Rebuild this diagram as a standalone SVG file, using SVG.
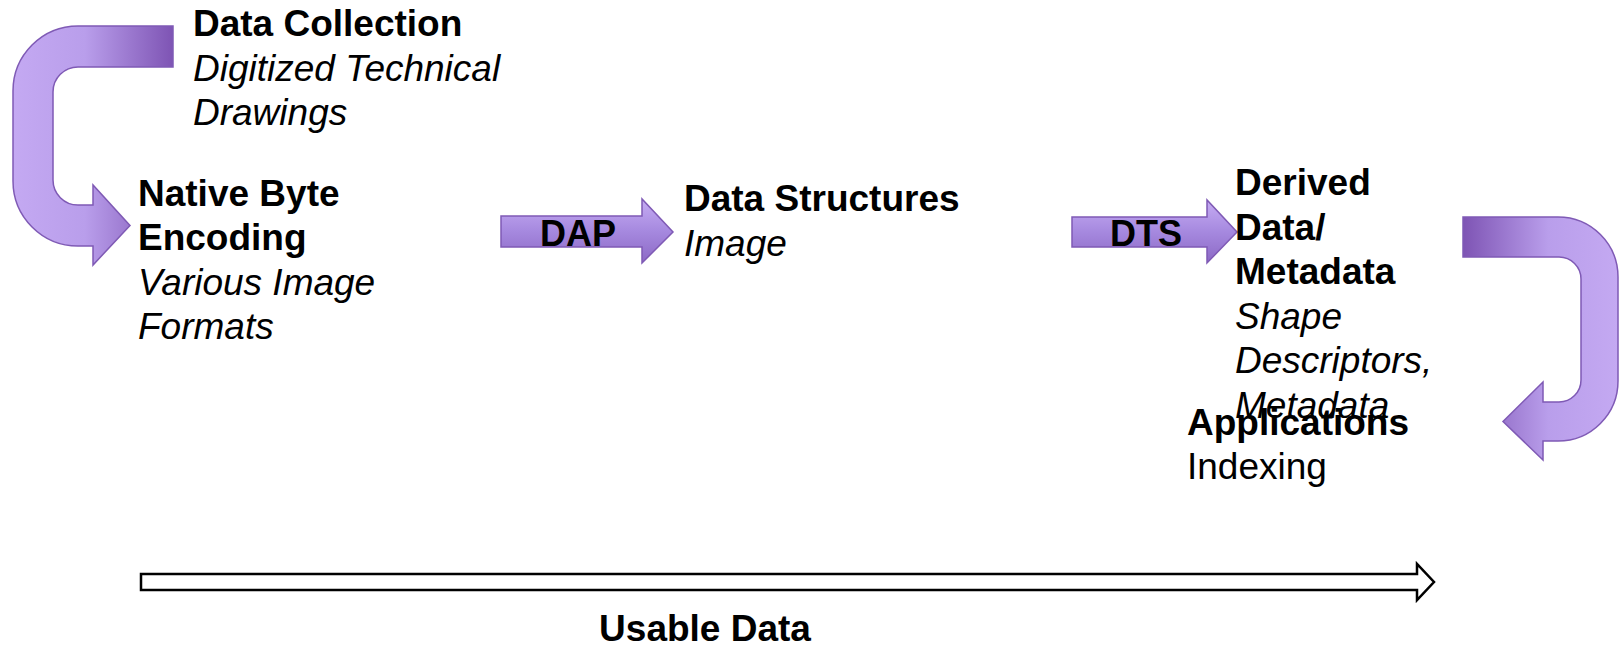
<svg xmlns="http://www.w3.org/2000/svg" width="1619" height="650" viewBox="0 0 1619 650">
<defs>
<linearGradient id="gL" x1="0" y1="0" x2="1" y2="0">
<stop offset="0" stop-color="#c4a9f2"/>
<stop offset="0.45" stop-color="#b99eeb"/>
<stop offset="1" stop-color="#7e54b4"/>
</linearGradient>
<linearGradient id="gR" x1="0" y1="0" x2="1" y2="0">
<stop offset="0" stop-color="#7e54b4"/>
<stop offset="0.55" stop-color="#b99eeb"/>
<stop offset="1" stop-color="#c4a9f2"/>
</linearGradient>
<linearGradient id="gV" x1="0" y1="0" x2="0" y2="1">
<stop offset="0" stop-color="#c6acf3"/>
<stop offset="0.5" stop-color="#a689df"/>
<stop offset="1" stop-color="#8c69c5"/>
</linearGradient>
<style>
.t{font-family:"Liberation Sans",Arial,sans-serif;font-size:37px;fill:#000}
.b{font-weight:bold}
.i{font-style:italic}
.lbl{font-family:"Liberation Sans",Arial,sans-serif;font-size:36px;font-weight:bold;fill:#000;text-anchor:middle}
.pa{stroke:#7f5ab5;stroke-width:1.5;stroke-linejoin:miter}
</style>
</defs>
<rect width="1619" height="650" fill="#fff"/>
<g id="connectors">
<path class="pa" fill="url(#gL)" d="M173,26 L78,26 A65,65 0 0 0 13,91 L13,181 A65,65 0 0 0 78,246 L93,246 L93,265 L130,225.5 L93,185 L93,205 L78,205 A25,25 0 0 1 53,180 L53,92 A25,25 0 0 1 78,67 L173,67 Z"/>
<path class="pa" fill="url(#gR)" d="M1463,217 L1558,217 A60,60 0 0 1 1618,277 L1618,381 A60,60 0 0 1 1558,441 L1543,441 L1543,460 L1503,421.5 L1543,382 L1543,402 L1559,402 A22,22 0 0 0 1581,380 L1581,279 A22,22 0 0 0 1559,257 L1463,257 Z"/>
<g id="dap">
<polygon class="pa" fill="url(#gV)" points="501,216 642,216 642,199 673,232 642,263 642,247 501,247"/>
<text class="lbl" x="578" y="246">DAP</text>
</g>
<g id="dts">
<polygon class="pa" fill="url(#gV)" points="1072,217 1207,217 1207,200 1237,232 1207,263 1207,247 1072,247"/>
<text class="lbl" x="1146" y="246">DTS</text>
</g>
<g id="usable">
<polygon fill="#fff" stroke="#000" stroke-width="2.5" points="141,574 1417,574 1417,564 1434,582 1417,600 1417,590 141,590"/>
<text class="t b" x="705" y="641" text-anchor="middle">Usable Data</text>
</g>
</g>
<g id="node-collection">
<text class="t b" x="193" y="36">Data Collection</text>
<text class="t i" x="193" y="81">Digitized Technical</text>
<text class="t i" x="193" y="125">Drawings</text>
</g>
<g id="node-encoding">
<text class="t b" x="138" y="206">Native Byte</text>
<text class="t b" x="138" y="250">Encoding</text>
<text class="t i" x="138" y="295">Various Image</text>
<text class="t i" x="138" y="339">Formats</text>
</g>
<g id="node-structures">
<text class="t b" x="684" y="211">Data Structures</text>
<text class="t i" x="684" y="256">Image</text>
</g>
<g id="node-derived">
<text class="t b" x="1235" y="195">Derived</text>
<text class="t b" x="1235" y="239.5">Data/</text>
<text class="t b" x="1235" y="284">Metadata</text>
<text class="t i" x="1235" y="328.5">Shape</text>
<text class="t i" x="1235" y="373">Descriptors,</text>
<text class="t i" x="1235" y="417.5">Metadata</text>
</g>
<g id="node-applications">
<text class="t b" x="1187" y="435">Applications</text>
<text class="t" x="1187" y="479">Indexing</text>
</g>
</svg>
